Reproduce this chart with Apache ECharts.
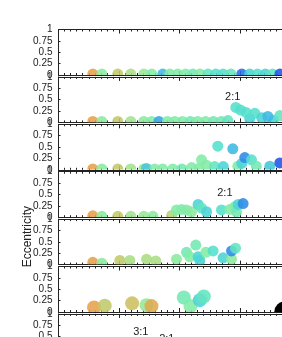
<!DOCTYPE html>
<html>
<head>
<meta charset="utf-8">
<script src="https://cdn.jsdelivr.net/npm/echarts@6/dist/echarts.min.js"></script>
<style>
  html, body { margin: 0; padding: 0; background: #fff; }
  #chart { width: 282px; height: 337px; }
</style>
</head>
<body>
<div id="chart"></div>
<script>
// each point: [x, eccentricity, colour value 0..1]
const panel1 = [[0.567,0.02,0.0],[0.716,0.02,0.45],[0.98,0.02,0.2],[1.195,0.02,0.3],[1.41,0.02,0.4],[1.542,0.02,0.5],
  [1.724,0.02,0.8],[1.84,0.02,0.5],[1.97,0.02,0.5],[2.1,0.02,0.5],[2.22,0.02,0.55],[2.34,0.02,0.5],[2.47,0.02,0.6],
  [2.6,0.02,0.65],[2.72,0.02,0.65],[2.85,0.02,0.6],[3.03,0.02,0.95],[3.16,0.02,0.7],[3.29,0.02,0.65],[3.42,0.02,0.7],
  [3.54,0.02,0.6],[3.66,0.02,1.0]]
const panel2 = [[0.567,0.02,0.0],[0.716,0.02,0.45],[0.98,0.02,0.2],[1.195,0.02,0.35],[1.41,0.02,0.45],[1.54,0.02,0.5],
  [1.66,0.02,0.85],[1.8,0.02,0.5],[1.92,0.02,0.5],[2.05,0.02,0.5],[2.18,0.02,0.55],[2.3,0.02,0.5],[2.43,0.02,0.5],
  [2.56,0.02,0.55],[2.69,0.02,0.55],[2.8,0.04,0.6],[3.16,0.08,0.7],[3.55,0.05,0.7],
  [2.93,0.33,0.65],[3.01,0.27,0.65],[3.1,0.22,0.65],[3.245,0.2,0.65],[3.36,0.1,0.7],[3.46,0.13,0.8],[3.658,0.15,0.6]]
const panel3 = [[0.567,0.02,0.0],[0.716,0.02,0.45],[0.98,0.02,0.2],[1.195,0.02,0.35],[1.41,0.02,0.4],[1.455,0.03,0.75],
  [1.59,0.02,0.5],[1.72,0.02,0.5],[1.89,0.02,0.5],[2.04,0.02,0.55],[2.2,0.05,0.5],[2.32,0.03,0.5],
  [2.364,0.22,0.5],[2.446,0.1,0.5],[2.633,0.52,0.65],[2.58,0.07,0.6],[2.724,0.07,0.7],[2.881,0.46,0.8],
  [2.964,0.08,0.5],[3.03,0.14,0.7],[3.079,0.27,0.9],[3.19,0.22,0.65],[3.27,0.08,0.55],[3.493,0.08,0.75],[3.658,0.15,1.0]]
const panel4 = [[0.567,0.03,0.0],[0.716,0.02,0.45],[0.98,0.02,0.2],[1.195,0.02,0.35],[1.41,0.02,0.4],[1.56,0.02,0.45],
  [1.87,0.04,0.25],[1.95,0.16,0.5],[2.033,0.17,0.5],[2.116,0.16,0.5],[2.198,0.12,0.45],[2.307,0.28,0.7],
  [2.364,0.2,0.6],[2.446,0.12,0.7],[2.694,0.16,0.65],[2.831,0.17,0.5],[2.914,0.23,0.5],[2.942,0.12,0.55],
  [2.969,0.28,0.7],[3.051,0.3,0.9]]
const panel5 = [[0.567,0.05,0.0],[0.716,0.03,0.45],[1.013,0.09,0.2],[1.179,0.09,0.3],[1.455,0.12,0.3],[1.608,0.08,0.3],
  [1.95,0.12,0.45],[2.116,0.27,0.55],[2.17,0.17,0.5],[2.269,0.43,0.55],[2.307,0.17,0.7],[2.336,0.09,0.7],
  [2.435,0.27,0.5],[2.555,0.3,0.65],[2.721,0.15,0.7],[2.86,0.12,0.45],[2.86,0.3,0.9],[2.926,0.36,0.6]]
const panel6 = [[0.588,0.1,0.0],[0.765,0.14,0.2],[1.217,0.19,0.15],[1.455,0.15,0.4],[1.537,0.13,0.05],
  [2.071,0.32,0.55],[2.182,0.13,0.5],[2.336,0.26,0.7],[2.402,0.34,0.6]]
const panel7 = []
const giantPlanet = [[3.74, 0]]   // black disc in panel 6

// [panel, x, eccentricity, text]
const ratioLabels = [[1, 2.88, 0.56, '2:1'], [3, 2.75, 0.53, '2:1'], [6, 1.36, 0.6, '3:1'], [6, 1.79, 0.44, '2:1']]

const yTicks = [0, 0.25, 0.5, 0.75, 1]
const panels = [panel1, panel2, panel3, panel4, panel5, panel6, panel7]
const dotRadius = [5.5, 5.5, 5.5, 5.5, 5.5, 7, 5.5]

const chart = echarts.init(document.getElementById('chart'))

const font = 'Liberation Sans'
const ink = '#222'
const grids = [], xAxes = [], yAxes = [], series = []
const dotSeries = []

for (let i = 0; i < panels.length; i++) {
  grids.push({left: 58.5, top: 29.5 + 47.4 * i, width: 242, height: 45.5, outerBoundsMode: 'none', containLabel: false})
  for (const pos of ['bottom', 'top']) {
    xAxes.push({
      gridIndex: i, type: 'value', position: pos, min: 0, max: 4, interval: 1,
      axisLine: {show: true, onZero: false, lineStyle: {color: ink, width: 1}},
      axisTick: {show: true, inside: true, length: 4, lineStyle: {color: ink}},
      minorTick: {show: true, splitNumber: 10, length: 2, lineStyle: {color: ink}},
      axisLabel: {show: false},
      splitLine: {show: false}
    })
  }
  yAxes.push({
    gridIndex: i, type: 'value', min: yTicks[0], max: yTicks[yTicks.length - 1], interval: 0.25,
    axisLine: {show: true, lineStyle: {color: ink, width: 1}},
    axisTick: {show: true, inside: true, length: 2, lineStyle: {color: ink}},
    axisLabel: {fontSize: 10, color: ink, margin: 6, fontFamily: font},
    splitLine: {show: false}
  })
  const r = dotRadius[i]
  dotSeries.push(series.length)
  series.push({
    type: 'custom', xAxisIndex: 2 * i, yAxisIndex: i, clip: true,
    data: panels[i],
    encode: {x: 0, y: 1},
    renderItem: function (params, api) {
      const p = api.coord([api.value(0), api.value(1)])
      const cs = params.coordSys
      return {
        type: 'circle',
        shape: {cx: p[0], cy: p[1], r: r},
        style: {fill: api.visual('color'), opacity: 0.88},
        clipPath: {type: 'rect', shape: {x: cs.x, y: cs.y, width: cs.width, height: cs.height}}
      }
    }
  })
}

// black disc in panel 6
series.push({
  type: 'custom', xAxisIndex: 10, yAxisIndex: 5, clip: true,
  data: giantPlanet,
  encode: {x: 0, y: 1},
  renderItem: function (params, api) {
    const p = api.coord([api.value(0), api.value(1)])
    const cs = params.coordSys
    return {
      type: 'circle',
      shape: {cx: p[0], cy: p[1], r: 10.5},
      style: {fill: '#000'},
      clipPath: {type: 'rect', shape: {x: cs.x, y: cs.y, width: cs.width, height: cs.height}}
    }
  }
})

// resonance labels
for (const lab of ratioLabels) {
  series.push({
    type: 'custom', xAxisIndex: 2 * lab[0], yAxisIndex: lab[0],
    data: [[lab[1], lab[2]]],
    encode: {x: 0, y: 1},
    renderItem: function (params, api) {
      const p = api.coord([api.value(0), api.value(1)])
      return {
        type: 'text', x: p[0], y: p[1],
        style: {text: lab[3], fill: ink, font: '11px ' + font, align: 'center', verticalAlign: 'middle',
          textAlign: 'center', textVerticalAlign: 'middle'}
      }
    }
  })
}

chart.setOption({
  animation: false,
  backgroundColor: '#fff',
  grid: grids,
  xAxis: xAxes,
  yAxis: yAxes,
  visualMap: {
    show: false, type: 'continuous', seriesIndex: dotSeries, dimension: 2, min: 0, max: 1,
    inRange: {color: ['#e6a04a', '#c9c462', '#a3e38c', '#82eca6', '#4fded0', '#3aaee6', '#1f55e6']}
  },
  graphic: [{
    type: 'text', left: 22, top: 206, rotation: Math.PI / 2,
    style: {text: 'Eccentricity', fill: ink, font: '12px ' + font}
  }],
  series: series
})
</script>
</body>
</html>
